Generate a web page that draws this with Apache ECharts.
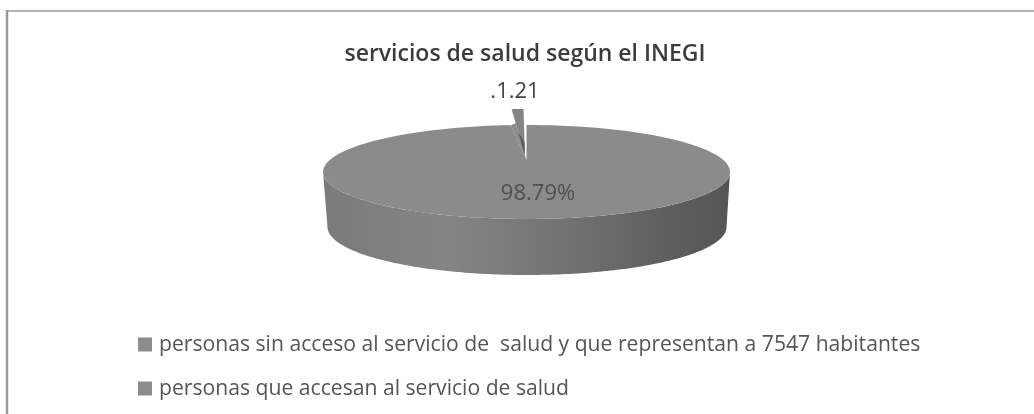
<!DOCTYPE html>
<html>
<head>
<meta charset="utf-8">
<style>html,body{margin:0;padding:0;background:#fff}#c{width:1034px;height:414px}</style>
<script src="https://cdn.jsdelivr.net/npm/echarts@6/dist/echarts.min.js"></script>
</head>
<body>
<div id="c"></div>
<script>
const chartTitle = 'servicios de salud según el INEGI';
const categories = [
  'personas sin acceso al servicio de  salud y que representan a 7547 habitantes',
  'personas que accesan al servicio de salud'
];
const values = [98.79, 1.21];
const valueLabels = ['98.79%', '.1.21'];

const FONT = '"Open Sans"';
const total = values.reduce((a, b) => a + b, 0);
const G = { cx: 526.5, cy: 172, rx: 203.5, ry: 47, apexY: 160, bx: 527, by: 227, brx: 199.5, bry: 48,
            wedgeDx: -3, wedgeDy: -16, wedgeRx: 156 };

function rim(cx, cy, rx, ry, t) { return [cx + rx * Math.sin(t), cy - ry * Math.cos(t)]; }
function arc(cx, cy, rx, ry, a, b) {
  const n = 160, pts = [];
  for (let i = 0; i <= n; i++) pts.push(rim(cx, cy, rx, ry, a + (b - a) * i / n));
  return pts;
}
function lerp(p, q, s) { return [p[0] + (q[0] - p[0]) * s, p[1] + (q[1] - p[1]) * s]; }

function renderMain(params, api) {
  const sweep = api.value(0) / total * Math.PI * 2;
  const apex = [G.cx, G.apexY];
  const children = [];
  const front = arc(G.cx, G.cy, G.rx, G.ry, Math.PI / 2, Math.PI * 1.5)
    .concat(arc(G.bx, G.by, G.brx, G.bry, Math.PI * 1.5, Math.PI / 2));
  children.push({
    type: 'polygon', shape: { points: front },
    style: { fill: { type: 'linear', x: 0, y: 0, x2: 1, y2: 0, colorStops: [
      { offset: 0, color: '#7a7a7a' }, { offset: 0.3, color: '#858585' },
      { offset: 0.6, color: '#727272' }, { offset: 0.85, color: '#5e5e5e' }, { offset: 1, color: '#555555' }
    ] } }
  });
  const top = [apex].concat(arc(G.cx, G.cy, G.rx, G.ry, 0, sweep));
  children.push({ type: 'polygon', shape: { points: top }, style: { fill: '#8b8b8b' } });
  children.push({ type: 'text', x: 538, y: 194, style: {
    text: valueLabels[0], font: '22px ' + FONT, fill: '#505050', align: 'center', verticalAlign: 'middle' } });
  return { type: 'group', children };
}

function renderWedge(params, api) {
  const sweep = api.value(0) / total * Math.PI * 2;
  const cx = G.cx + G.wedgeDx, cy = G.cy + G.wedgeDy;
  const apex = [525, 156];
  const outer = arc(cx, cy, G.wedgeRx, G.ry, -sweep, 0);
  const leftRim = outer[0];
  const mainEnd = rim(G.cx, G.cy, G.rx, G.ry, -sweep);
  const children = [
    { type: 'polygon', shape: { points: [[G.cx, G.apexY], mainEnd, lerp(leftRim, apex, 0.3)] }, style: { fill: '#8b8b8b' } },
    { type: 'polygon', shape: { points: [apex].concat(outer) }, style: { fill: '#858585' } },
    { type: 'polygon', shape: { points: [lerp(leftRim, apex, 0.2), lerp(leftRim, apex, 0.5),
        lerp(outer[160], apex, 0.72), lerp(leftRim, apex, 0.97)] }, style: { fill: '#595959' } },
    { type: 'text', x: 515, y: 92, style: {
      text: valueLabels[1], font: '22px ' + FONT, fill: '#444', align: 'center', verticalAlign: 'middle' } }
  ];
  return { type: 'group', children };
}

const chart = echarts.init(document.getElementById('c'), null, { renderer: 'canvas' });
chart.setOption({
  animation: false,
  backgroundColor: '#ffffff',
  title: { text: chartTitle, left: 525, textAlign: 'center', top: 43, padding: 0,
    textStyle: { fontFamily: FONT, fontSize: 23, fontWeight: 600, color: '#3c3c3c' } },
  legend: {
    orient: 'vertical', left: 138, top: 334, padding: 0, icon: 'rect', itemWidth: 14, itemHeight: 14, itemGap: 23,
    selectedMode: false,
    textStyle: { fontFamily: FONT, fontSize: 21.15, color: '#555555', padding: [0, 0, 0, 2] },
    data: categories
  },
  graphic: [
    { type: 'line', silent: true, shape: { x1: 7, y1: 10, x2: 7, y2: 414 }, style: { stroke: '#9a9a9a', lineWidth: 2.5 } },
    { type: 'line', silent: true, shape: { x1: 6, y1: 11, x2: 1034, y2: 11 }, style: { stroke: '#9a9a9a', lineWidth: 1.5 } }
  ],
  series: [
    { type: 'custom', name: categories[0], coordinateSystem: 'none', renderItem: renderMain,
      itemStyle: { color: '#8c8c8c' }, data: [[values[0]]] },
    { type: 'custom', name: categories[1], coordinateSystem: 'none', renderItem: renderWedge,
      itemStyle: { color: '#8c8c8c' }, data: [[values[1]]] }
  ]
});
</script>
</body>
</html>
